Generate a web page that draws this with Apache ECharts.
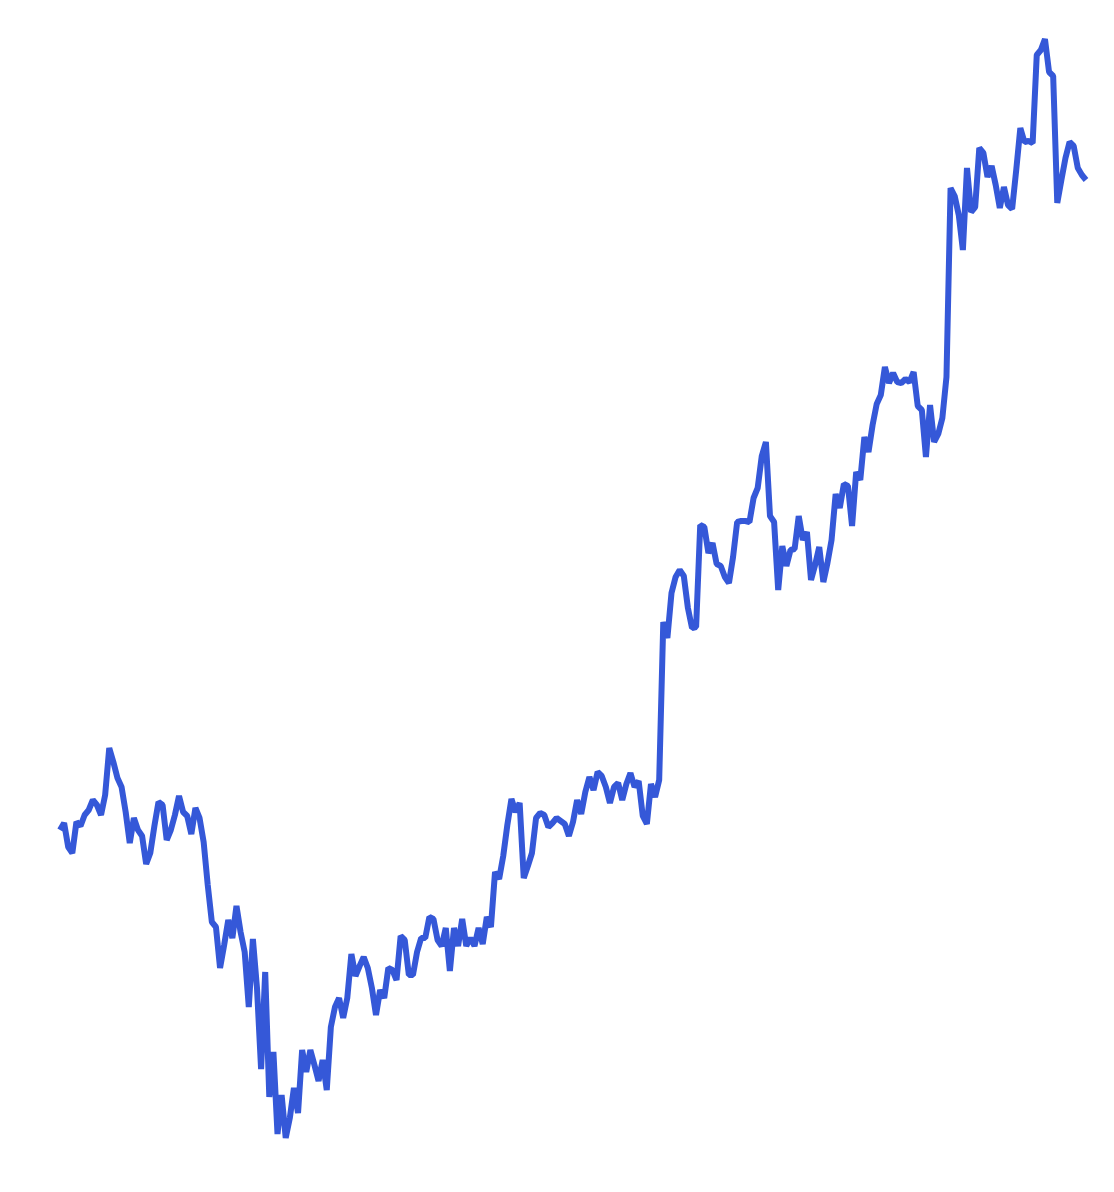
<!DOCTYPE html>
<html>
<head>
<meta charset="utf-8">
<script src="https://cdn.jsdelivr.net/npm/echarts@6/dist/echarts.min.js"></script>
<style>html,body{margin:0;padding:0;background:#fff;}#c{width:1114px;height:1192px;}</style>
</head>
<body>
<div id="c"></div>
<script>
const values = [
32.0,32.7,30.3,29.7,32.8,32.4,33.5,34.0,35.0,34.5,
33.5,35.5,40.2,38.8,37.2,36.3,33.8,30.7,33.2,32.0,
31.4,28.6,29.7,32.4,34.8,34.5,31.0,32.0,33.5,35.4,
33.8,33.4,31.6,34.2,33.2,30.8,26.5,22.8,22.3,18.2,
20.5,23.0,21.2,24.4,21.8,19.8,14.3,21.1,16.2,8.1,
17.8,5.3,9.8,1.6,5.5,1.2,3.2,6.2,3.7,10.0,
7.8,10.0,8.5,6.9,9.0,6.0,12.3,14.3,15.2,13.2,
15.2,19.6,17.4,18.4,19.3,18.2,16.2,13.5,16.0,15.2,
18.2,18.0,17.0,21.4,21.0,17.5,17.5,19.8,21.2,21.2,
23.3,23.1,21.0,20.4,22.2,17.9,22.2,20.4,23.1,20.4,
21.2,20.4,22.2,20.6,23.3,22.3,27.8,27.1,29.4,32.5,
35.1,33.8,34.7,27.2,28.4,29.7,33.2,33.7,33.5,32.3,
32.7,33.2,32.9,32.6,31.4,32.8,35.0,33.6,35.8,37.3,
36.0,37.8,37.4,36.3,34.7,36.3,36.7,35.0,36.6,37.7,
36.3,36.9,33.4,32.6,36.6,35.3,37.0,52.8,51.2,55.7,
57.3,58.0,57.4,54.2,52.2,52.3,62.5,62.3,59.7,60.7,
58.6,58.4,57.3,56.7,59.3,62.8,62.9,62.9,62.8,65.2,
66.2,69.4,70.8,63.4,62.8,56.0,60.4,58.4,60.0,60.1,
63.4,61.0,61.8,57.0,58.5,60.3,56.8,58.7,61.0,65.6,
64.2,66.6,66.4,62.4,67.8,67.0,71.3,69.8,72.5,74.6,
75.5,78.3,76.7,77.7,76.8,76.7,77.1,76.8,77.8,74.4,
74.0,69.3,74.5,70.8,71.6,73.2,77.3,96.2,95.4,93.5,
90.0,98.2,93.8,94.3,100.2,99.7,97.3,98.4,96.5,94.2,
96.3,94.5,94.1,98.0,102.2,100.8,100.9,100.7,109.5,110.0,
111.1,107.8,107.4,94.7,97.0,99.2,100.8,100.4,98.2,97.5,
97.0
];
const categories = values.map((_, i) => String(i + 1));
const yMin = 0;
const yMax = 115;

const chart = echarts.init(document.getElementById('c'));
chart.setOption({
  animation: false,
  backgroundColor: '#ffffff',
  grid: { left: 60, right: 28, top: 0, bottom: 42 },
  xAxis: { type: 'category', data: categories, boundaryGap: false, show: false },
  yAxis: { type: 'value', min: yMin, max: yMax, show: false },
  series: [{
    type: 'line',
    data: values,
    showSymbol: false,
    symbol: 'none',
    lineStyle: { color: '#3558d8', width: 6 },
    itemStyle: { color: '#3558d8' }
  }]
});
</script>
</body>
</html>
